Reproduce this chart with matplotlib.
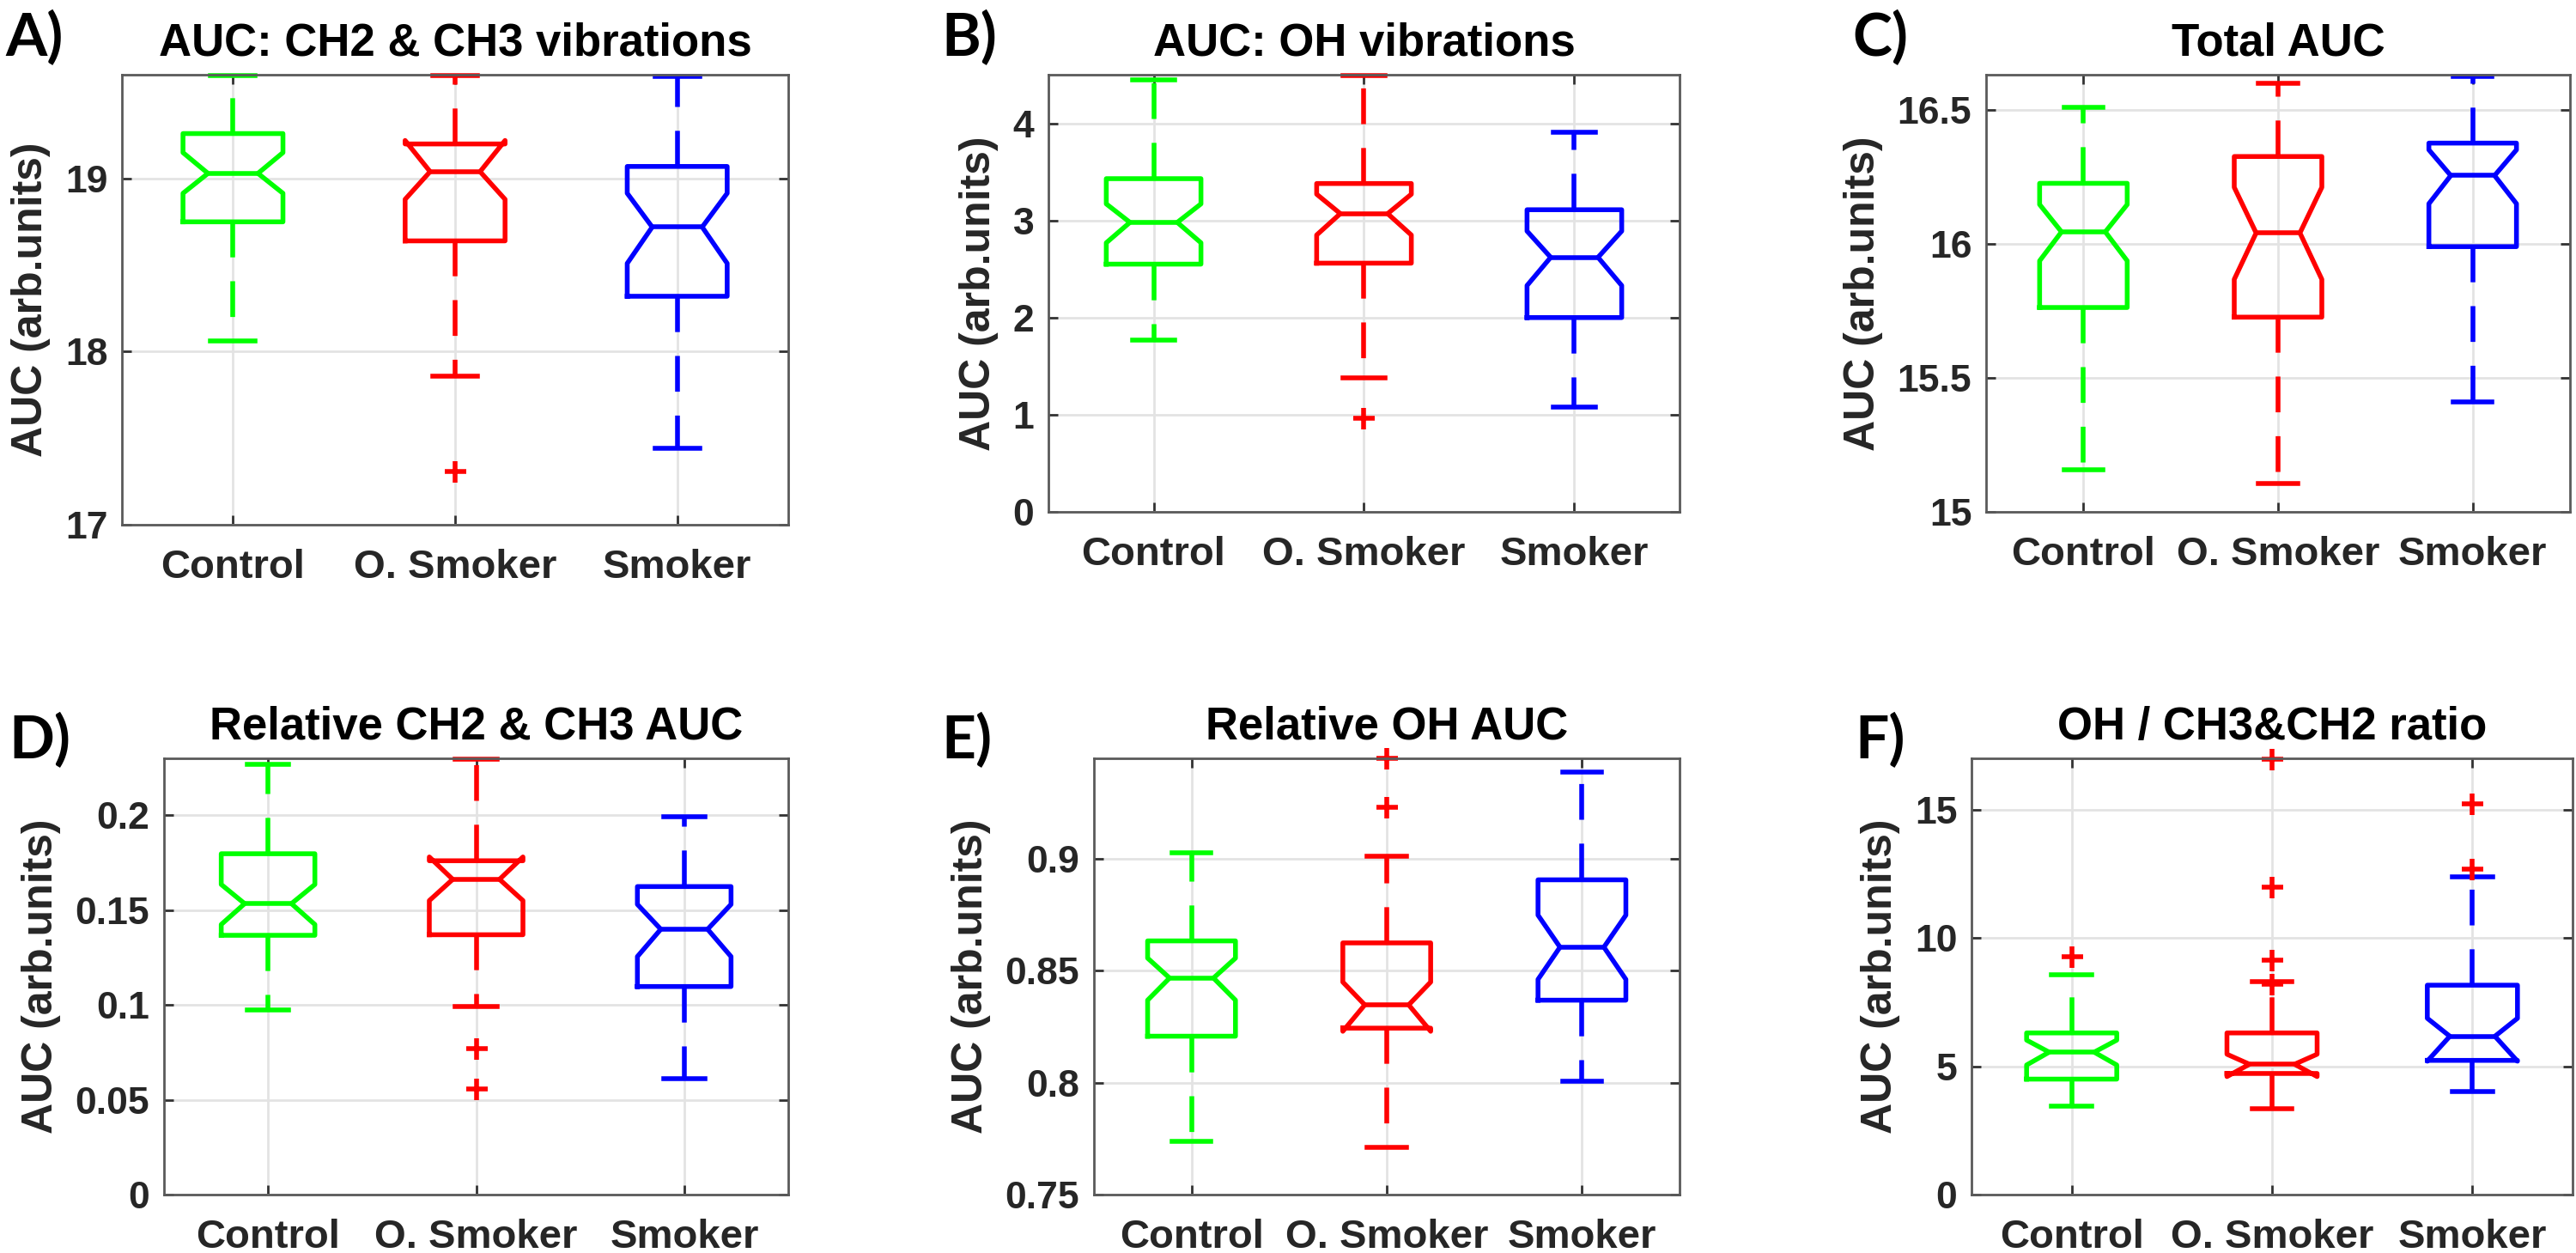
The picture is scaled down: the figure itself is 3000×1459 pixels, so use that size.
import matplotlib

matplotlib.use("Agg")
import matplotlib.pyplot as plt
from matplotlib.ticker import FuncFormatter

groups = ["Control", "O. Smoker", "Smoker"]
colors = ["#00ff00", "#ff0000", "#0000ff"]
tags = ["A)", "B)", "C)", "D)", "E)", "F)"]
titles = [
    "AUC: CH2 & CH3 vibrations",
    "AUC: OH vibrations",
    "Total AUC",
    "Relative CH2 & CH3 AUC",
    "Relative OH AUC",
    "OH / CH3&CH2 ratio",
]
ylabel = "AUC (arb.units)"

# one row per panel (A..F), one value per group (Control, O. Smoker, Smoker)
whislo = [
    [18.06, 17.86, 17.44],
    [1.77, 1.38, 1.08],
    [15.158, 15.107, 15.411],
    [0.0975, 0.0992, 0.0612],
    [0.7737, 0.771, 0.8005],
    [3.44, 3.33, 4.02],
]
q1 = [
    [18.75, 18.64, 18.32],
    [2.55, 2.56, 2.00],
    [15.762, 15.726, 15.989],
    [0.1367, 0.137, 0.1097],
    [0.8208, 0.8244, 0.8369],
    [4.50, 4.72, 5.23],
]
med = [
    [19.03, 19.04, 18.72],
    [2.98, 3.07, 2.62],
    [16.044, 16.04, 16.254],
    [0.1534, 0.1662, 0.1399],
    [0.8468, 0.8348, 0.8606],
    [5.55, 5.08, 6.17],
]
q3 = [
    [19.26, 19.20, 19.07],
    [3.43, 3.38, 3.11],
    [16.225, 16.325, 16.375],
    [0.1797, 0.176, 0.1624],
    [0.8634, 0.8625, 0.8907],
    [6.30, 6.30, 8.16],
]
whishi = [
    [19.595, 19.595, 19.59],
    [4.45, 4.49, 3.91],
    [16.507, 16.597, 16.625],
    [0.2268, 0.2295, 0.199],
    [0.9029, 0.9014, 0.939],
    [8.58, 8.31, 12.39],
]
cilo = [
    [18.915, 18.88, 18.51],
    [2.77, 2.85, 2.33],
    [15.936, 15.867, 16.149],
    [0.1424, 0.155, 0.1255],
    [0.8369, 0.823, 0.8462],
    [5.05, 4.60, 5.20],
]
cihi = [
    [19.15, 19.22, 18.915],
    [3.17, 3.27, 2.89],
    [16.146, 16.21, 16.35],
    [0.1635, 0.178, 0.153],
    [0.8557, 0.845, 0.8749],
    [6.02, 5.47, 6.87],
]
outliers = [
    [[], [17.31], []],
    [[], [0.96], []],
    [[], [], []],
    [[], [0.077, 0.0559], []],
    [[], [0.945, 0.923], []],
    [[9.27], [16.98, 11.98, 9.14, 8.2], [15.23, 12.69]],
]

ylims = [(17, 19.6), (0, 4.5), (15, 16.63), (0, 0.23), (0.75, 0.945), (0, 17)]
yticks = [
    [17, 18, 19],
    [0, 1, 2, 3, 4],
    [15, 15.5, 16, 16.5],
    [0, 0.05, 0.1, 0.15, 0.2],
    [0.75, 0.8, 0.85, 0.9],
    [0, 5, 10, 15],
]

# axes boxes in pixels: left, top, right, bottom
W, H = 3000, 1459
rects = [
    (142, 87, 918, 611),
    (1221, 87, 1956, 596),
    (2313, 87, 2993, 596),
    (191, 883, 918, 1391),
    (1274, 883, 1956, 1391),
    (2296, 883, 2996, 1391),
]
tag_pos = [(6, 45), (1096, 45), (2157, 45), (10, 862), (1096, 862), (2160, 862)]

plt.rcParams["font.family"] = ["Liberation Sans", "DejaVu Sans"]
plt.rcParams["font.weight"] = "bold"
plt.rcParams["axes.titleweight"] = "bold"
plt.rcParams["axes.labelweight"] = "bold"

fig = plt.figure(figsize=(W / 200, H / 200), dpi=200)

for k in range(6):
    l, t, r, b = rects[k]
    ax = fig.add_axes([l / W, 1 - b / H, (r - l) / W, (b - t) / H])
    stats = []
    for i in range(3):
        stats.append(dict(
            med=med[k][i], q1=q1[k][i], q3=q3[k][i],
            whislo=whislo[k][i], whishi=whishi[k][i],
            cilo=cilo[k][i], cihi=cihi[k][i], fliers=outliers[k][i],
        ))
    art = ax.bxp(
        stats, positions=[1, 2, 3], widths=0.45, capwidths=0.2, shownotches=True,
        boxprops=dict(linewidth=2),
        medianprops=dict(linewidth=2),
        whiskerprops=dict(linewidth=2, linestyle=(0, (7.5, 5))),
        capprops=dict(linewidth=2),
        flierprops=dict(marker="+", markeredgecolor="red", markersize=9,
                        markeredgewidth=2, linestyle="none"),
    )
    for i, c in enumerate(colors):
        art["boxes"][i].set_color(c)
        art["medians"][i].set_color(c)
        for j in (2 * i, 2 * i + 1):
            art["whiskers"][j].set_color(c)
            art["caps"][j].set_color(c)
    for group in art.values():
        for a in group:
            a.set_clip_on(False)

    ax.set_xlim(0.5, 3.5)
    ax.set_ylim(*ylims[k])
    ax.set_yticks(yticks[k])
    ax.yaxis.set_major_formatter(FuncFormatter(lambda v, p: f"{v:g}"))
    ax.set_xticks([1, 2, 3])
    ax.set_xticklabels(groups)
    ax.grid(True, color="#e3e3e3", linewidth=1.0)
    ax.set_axisbelow(True)
    for s in ax.spines.values():
        s.set_color("#5a5a5a")
        s.set_linewidth(1.0)
    ax.tick_params(direction="in", top=True, right=True, length=4, width=1,
                   color="#333333", labelcolor="#262626")
    ax.tick_params(axis="y", labelsize=16, pad=6)
    ax.tick_params(axis="x", labelsize=17, pad=10)
    ax.set_title(titles[k], fontsize=19, pad=8)
    ax.set_ylabel(ylabel, fontsize=18, labelpad=6, color="#262626")

    x, y = tag_pos[k]
    fig.text(x / W, 1 - y / H, tags[k], fontsize=25, family="Lato",
             weight="bold", ha="left", va="center")

fig.savefig("out.png", dpi=200)
